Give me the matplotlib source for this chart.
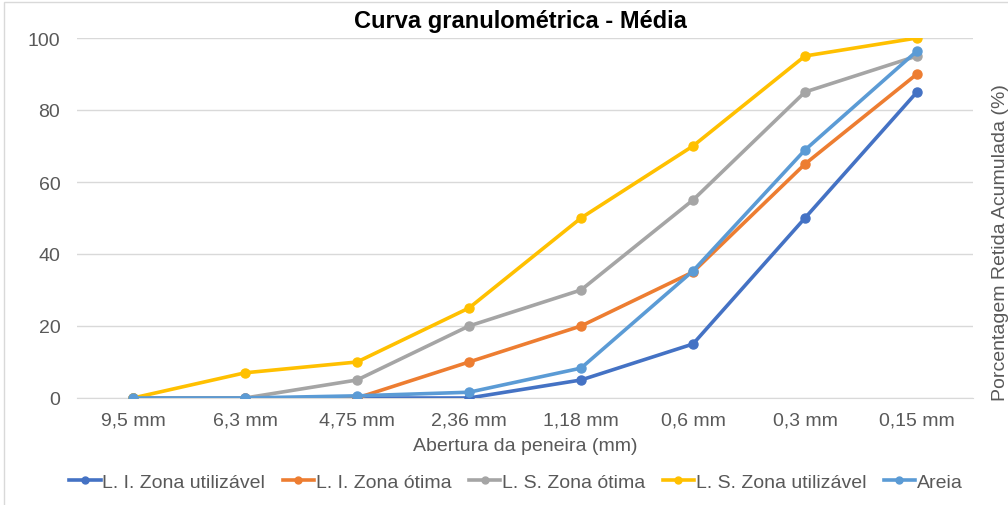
import matplotlib
matplotlib.use("Agg")
import matplotlib.pyplot as plt
from matplotlib.patches import Rectangle

plt.rcParams['font.family'] = ['Liberation Sans', 'DejaVu Sans']

# --- Data ---
peneiras = ['9,5 mm', '6,3 mm', '4,75 mm', '2,36 mm', '1,18 mm', '0,6 mm', '0,3 mm', '0,15 mm']
li_utilizavel = [0, 0, 0, 0, 5, 15, 50, 85]
li_otima = [0, 0, 0, 10, 20, 35, 65, 90]
ls_otima = [0, 0, 5, 20, 30, 55, 85, 95]
ls_utilizavel = [0, 7, 10, 25, 50, 70, 95, 100]
areia = [0, 0, 0.6, 1.6, 8.3, 35.3, 68.9, 96.4]

series = [
    ("L. I. Zona utilizável", li_utilizavel, '#4472C4'),
    ("L. I. Zona ótima", li_otima, '#ED7D31'),
    ("L. S. Zona ótima", ls_otima, '#A5A5A5'),
    ("L. S. Zona utilizável", ls_utilizavel, '#FFC000'),
    ("Areia", areia, '#5B9BD5'),
]

fig = plt.figure(figsize=(10.08, 5.06), dpi=100)
ax = fig.add_axes([77 / 1008, (506 - 399) / 506, (973 - 77) / 1008, 360 / 506])

x = list(range(len(peneiras)))
for name, vals, col in series:
    ax.plot(x, vals, color=col, lw=2.6, marker='o', ms=6.5, label=name, zorder=3)

ax.set_xlim(-0.5, len(peneiras) - 0.5)
ax.set_ylim(0, 100)
ax.set_yticks([0, 20, 40, 60, 80, 100])
ax.set_xticks(x)
ax.set_xticklabels(peneiras)
ax.grid(axis='y', color='#D9D9D9', lw=1, zorder=0)
for s in ['top', 'right', 'left']:
    ax.spines[s].set_visible(False)
ax.spines['bottom'].set_color('#D9D9D9')
ax.tick_params(length=0, labelsize=14, colors='#595959', pad=10)
ax.tick_params(axis='y', pad=12)

ax.set_xlabel("Abertura da peneira (mm)", fontsize=14, color='#595959', labelpad=6)
fig.text(0.993, 0.521, "Porcentagem Retida Acumulada (%)", rotation=90, fontsize=14,
         color='#595959', ha='center', va='center')
fig.text(0.516, 0.957, "Curva granulométrica - Média", fontsize=17, fontweight='bold',
         ha='center', va='center', color='black')

leg = fig.legend(loc='center', bbox_to_anchor=(0.512, 0.045), ncol=5, frameon=False,
                 fontsize=14, handlelength=1.6, handletextpad=0.1, columnspacing=0.9,
                 labelcolor='#595959')
for h in leg.legend_handles:
    h.set_markersize(5)

# chart frame
fig.patches.append(Rectangle((4 / 1008, -0.1), 1.2, (506 - 3) / 506 + 0.1,
                             transform=fig.transFigure, fill=False,
                             edgecolor='#D9D9D9', lw=1))

fig.savefig("out.png", dpi=100)
